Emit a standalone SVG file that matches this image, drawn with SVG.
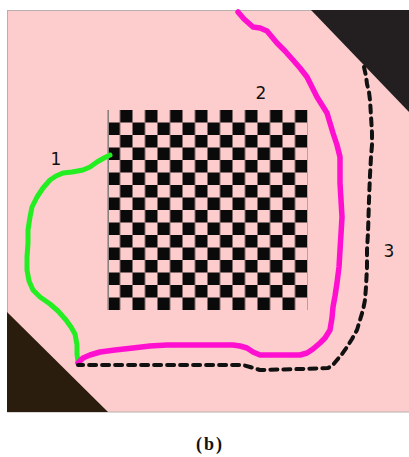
<svg xmlns="http://www.w3.org/2000/svg" width="409" height="457" viewBox="0 0 409 457">
<style>
.curve{fill:none;stroke-linecap:round;stroke-linejoin:round}
.lbl{font-family:"DejaVu Sans",Verdana,sans-serif;font-size:17px;fill:#111}
</style>
<defs>
<pattern id="chk" patternUnits="userSpaceOnUse" x="107.5" y="110" width="25" height="25">
<rect x="12.5" y="0" width="12.5" height="12.5" fill="#0a0a0a"/>
<rect x="0" y="12.5" width="12.5" height="12.5" fill="#0a0a0a"/>
</pattern>
</defs>
<rect width="409" height="457" fill="#ffffff"/>
<g id="field">
<rect x="7.5" y="10.5" width="402" height="401.5" fill="#fdcdcd" stroke="#b8b0b0" stroke-width="1"/>
<polygon points="311,10 409,10 409,112" fill="#231f20"/>
<polygon points="7,312 7,412 108,412" fill="#2b1d0d"/>
</g>
<g id="checkerboard">
<rect x="107.5" y="110" width="200" height="200" fill="url(#chk)"/>
<line x1="108.5" y1="110" x2="108.5" y2="310" stroke="#8a8080" stroke-width="1"/>
</g>
<g id="connectors">
<path id="path1" class="curve" stroke="#22ee22" stroke-width="5" d="M110,155 L104,158 L97,162 L90,167 L83,170 L72,172 L63,173 L56,176 L50,180 L43,188 L37,197 L32,207 L30,217 L28,230 L28,243 L27,257 L27,270 L29,281 L33,290 L40,297 L50,304 L58,311 L66,320 L71,327 L75,334 L77,345 L77,354 L78,362"/>
<path id="path2" class="curve" stroke="#ff10d0" stroke-width="5.5" d="M238,12 L244,19 L253,27 L260,28 L267,31 L272,37 L277,43 L285,51 L293,60 L300,68 L307,77 L312,87 L317,97 L322,105 L327,113 L330,123 L333,133 L337,145 L340,157 L340,170 L340,183 L341,200 L342,217 L341,234 L340,250 L339,267 L337,283 L335,296 L333,307 L332,318 L330,330 L325,338 L320,343 L313,349 L307,353 L300,355 L293,355 L277,355 L260,355 L253,352 L247,348 L240,346 L233,345 L200,345 L167,345 L150,346 L133,348 L115,350 L100,352 L90,355 L83,358 L78,363"/>
<path id="path3" class="curve" stroke="#111111" stroke-width="4" stroke-dasharray="7,6" stroke-linecap="butt" d="M364,67 L366,76 L367,84 L369,92 L370,100 L371,116 L372,133 L372,145 L371,157 L370,175 L369,200 L368,233 L367,250 L367,267 L366,287 L365,300 L363,310 L360,320 L357,330 L352,339 L347,347 L342,354 L337,360 L332,366 L328,368 L300,369 L260,370 L250,367 L243,365 L200,365 L150,365 L93,365 L78,365"/>
</g>
<g id="labels">
<text class="lbl" x="56" y="165" text-anchor="middle">1</text>
<text class="lbl" x="261" y="99" text-anchor="middle">2</text>
<text class="lbl" x="389" y="257" text-anchor="middle">3</text>
<text x="210" y="450" text-anchor="middle" font-family="'Liberation Serif','Times New Roman',serif" font-weight="bold" font-size="18" letter-spacing="2" fill="#111">(b)</text>
</g>
</svg>
